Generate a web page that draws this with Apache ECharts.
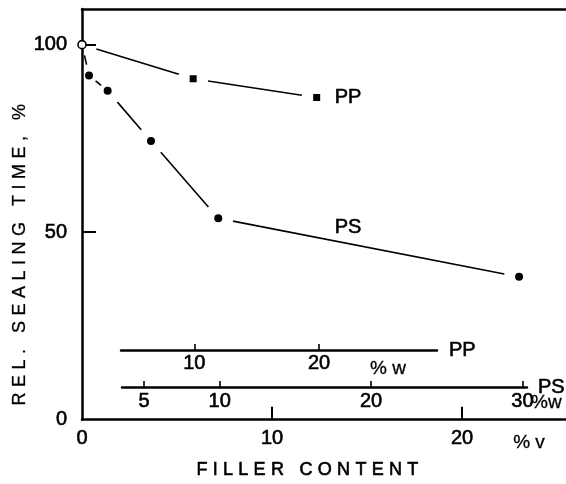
<!DOCTYPE html>
<html>
<head>
<meta charset="utf-8">
<script src="https://cdn.jsdelivr.net/npm/echarts@6/dist/echarts.min.js"></script>
<style>
  html, body { margin: 0; padding: 0; background: #fff; }
  #chart { width: 566px; height: 484px; }
</style>
</head>
<body>
<div id="chart"></div>
<script>
// Relative sealing time (%) against filler content (% by volume)
const ppContent = [0, 5.85, 12.35];
const ppTime = [100, 90.9, 85.9];
const psContent = [0, 0.37, 1.35, 3.63, 7.17, 23.0];
const psTime = [100, 91.8, 87.7, 74.3, 53.7, 38.1];

// tick labels of the volume axis and of the two weight-percent scales
const volumeTicks = [0, 10, 20];
const timeTicks = [0, 50, 100];
const ppWeightTicks = [10, 20];
const psWeightTicks = [5, 10, 20, 30];

// where the curve names sit, in data units
const ppNameAt = [ppContent[2], ppTime[2]];
const psNameAt = [14.0, 51.2];

const FONT = '"Liberation Sans", Arial, Helvetica, sans-serif';
const INK = '#000';
// a hairline outline gives the lettering a slightly heavier, printed look
const HEAVY = { textBorderColor: INK, textBorderWidth: 0.6 };

// wide letter tracking for the two axis titles only
const TRACKING = { 'FILLER CONTENT': 5.3, 'REL. SEALING TIME, %': 5.5 };
const proto = CanvasRenderingContext2D.prototype;
function setTracking(ctx, value) {
  const font = ctx.font;
  ctx.letterSpacing = value;
  ctx.font = font; // re-apply so the new spacing takes effect
}
['fillText', 'strokeText'].forEach((method) => {
  const base = proto[method];
  proto[method] = function (text, x, y, maxWidth) {
    const space = TRACKING[text];
    const draw = () => (maxWidth === undefined
      ? base.call(this, text, x, y)
      : base.call(this, text, x, y, maxWidth));
    if (space === undefined) {
      if (this.letterSpacing && this.letterSpacing !== '0px') setTracking(this, '0px');
      return draw();
    }
    setTracking(this, space + 'px');
    draw();
    setTracking(this, '0px');
  };
});

// consecutive point pairs, so each stroke can stop short of its markers
function pairs(xs, ys) {
  const out = [];
  for (let i = 0; i < xs.length - 1; i++) out.push([xs[i], ys[i], xs[i + 1], ys[i + 1]]);
  return out;
}
function renderGapSegment(params, api) {
  const a = api.coord([api.value(0), api.value(1)]);
  const b = api.coord([api.value(2), api.value(3)]);
  const dx = b[0] - a[0], dy = b[1] - a[1];
  const len = Math.hypot(dx, dy);
  const gap = Math.min(15, len * 0.35);
  const ux = dx / len, uy = dy / len;
  return {
    type: 'line',
    shape: { x1: a[0] + ux * gap, y1: a[1] + uy * gap, x2: b[0] - ux * gap, y2: b[1] - uy * gap },
    style: { stroke: INK, lineWidth: 1.6 }
  };
}
const pts = (xs, ys) => xs.map((x, i) => [x, ys[i]]);

const tickText = Object.assign({ color: INK, fontFamily: FONT, fontSize: 20 }, HEAVY);
const textStyle = (size, extra) => Object.assign({ color: INK, fontFamily: FONT, fontSize: size }, HEAVY, extra || {});
const graphicText = (text, x, y, size, align, rotation) => ({
  type: 'text', x, y, rotation: rotation || 0,
  style: {
    text, fill: INK, font: size + 'px ' + FONT, textAlign: align, textVerticalAlign: 'middle',
    stroke: INK, lineWidth: 0.3
  }
});

const chart = echarts.init(document.getElementById('chart'), null, { renderer: 'canvas' });

chart.setOption({
  animation: false,
  backgroundColor: '#fff',
  grid: [
    { left: 82, right: 0, top: 9, bottom: 61 },
    { left: 121, width: 316, top: 349, height: 1 },
    { left: 122, width: 405, top: 386, height: 1 }
  ],
  xAxis: [
    {
      gridIndex: 0, type: 'value', min: 0, max: 25.47, interval: 10,
      name: 'FILLER CONTENT', nameLocation: 'middle', nameGap: 50,
      nameTextStyle: textStyle(18, { verticalAlign: 'middle', padding: [0, 28, 0, 0] }),
      axisLine: { lineStyle: { color: INK, width: 2.5 } },
      axisTick: { inside: true, length: 13, customValues: [10, 20], lineStyle: { color: INK, width: 2 } },
      axisLabel: Object.assign({ margin: 9, customValues: volumeTicks }, tickText),
      splitLine: { show: false }
    },
    {
      gridIndex: 0, type: 'value', position: 'top', min: 0, max: 25.47,
      axisLine: { show: true, lineStyle: { color: INK, width: 2.5 } },
      axisTick: { show: false }, axisLabel: { show: false }, splitLine: { show: false }
    },
    {
      gridIndex: 1, type: 'value', min: 4.12, max: 29.46,
      name: 'PP', nameLocation: 'end', nameGap: 12,
      nameTextStyle: textStyle(20),
      axisLine: { lineStyle: { color: INK, width: 2.5 } },
      axisTick: { inside: true, length: 6, customValues: ppWeightTicks, lineStyle: { color: INK, width: 1.6 } },
      axisLabel: Object.assign({ margin: 3, customValues: ppWeightTicks }, tickText),
      splitLine: { show: false }
    },
    {
      gridIndex: 2, type: 'value', min: 3.55, max: 30.3,
      name: 'PS', nameLocation: 'end', nameGap: 10,
      nameTextStyle: textStyle(20, { padding: [0, 0, 2, 0] }),
      axisLine: { lineStyle: { color: INK, width: 2.5 } },
      axisTick: { inside: true, length: 6, customValues: psWeightTicks, lineStyle: { color: INK, width: 1.6 } },
      axisLabel: Object.assign({ margin: 4, customValues: psWeightTicks }, tickText),
      splitLine: { show: false }
    }
  ],
  yAxis: [
    {
      gridIndex: 0, type: 'value', min: 0, max: 109.5, interval: 50,
      axisLine: { show: true, lineStyle: { color: INK, width: 2.5 } },
      axisTick: { show: true, inside: true, length: 14, customValues: [50, 100], lineStyle: { color: INK, width: 2 } },
      axisLabel: Object.assign({ margin: 15, customValues: timeTicks }, tickText),
      splitLine: { show: false }
    },
    { gridIndex: 1, show: false, min: 0, max: 1 },
    { gridIndex: 2, show: false, min: 0, max: 1 }
  ],
  graphic: [
    graphicText('REL. SEALING TIME, %', 20, 252, 18, 'center', Math.PI / 2),
    graphicText('% w', 388, 369, 19, 'center'),
    graphicText('%w', 531, 403, 19, 'left'),
    graphicText('% v', 529, 443, 19, 'center')
  ],
  series: [
    {
      type: 'custom', xAxisIndex: 0, yAxisIndex: 0, renderItem: renderGapSegment,
      encode: { x: [0, 2], y: [1, 3] }, data: pairs(ppContent, ppTime), clip: false
    },
    {
      type: 'custom', xAxisIndex: 0, yAxisIndex: 0, renderItem: renderGapSegment,
      encode: { x: [0, 2], y: [1, 3] }, data: pairs(psContent, psTime), clip: false
    },
    {
      type: 'scatter', symbol: 'rect', symbolSize: 7, clip: false,
      itemStyle: { color: INK, opacity: 1 },
      data: pts(ppContent, ppTime).slice(1)
    },
    {
      type: 'scatter', symbol: 'circle', symbolSize: 8, clip: false,
      itemStyle: { color: INK, opacity: 1 },
      data: pts(psContent, psTime).slice(1)
    },
    {
      type: 'scatter', symbol: 'circle', symbolSize: 8, clip: false, z: 5,
      itemStyle: { color: '#fff', borderColor: INK, borderWidth: 1.6, opacity: 1 },
      data: [[psContent[0], psTime[0]]]
    },
    {
      type: 'scatter', symbolSize: 0, silent: true,
      itemStyle: { color: INK, opacity: 1 },
      label: Object.assign({ show: true, position: 'right', distance: 18, formatter: 'PP' }, textStyle(20)),
      data: [ppNameAt]
    },
    {
      type: 'scatter', symbolSize: 0, silent: true,
      itemStyle: { color: INK, opacity: 1 },
      label: Object.assign({ show: true, position: 'inside', formatter: 'PS' }, textStyle(20)),
      data: [psNameAt]
    }
  ]
});
</script>
</body>
</html>
